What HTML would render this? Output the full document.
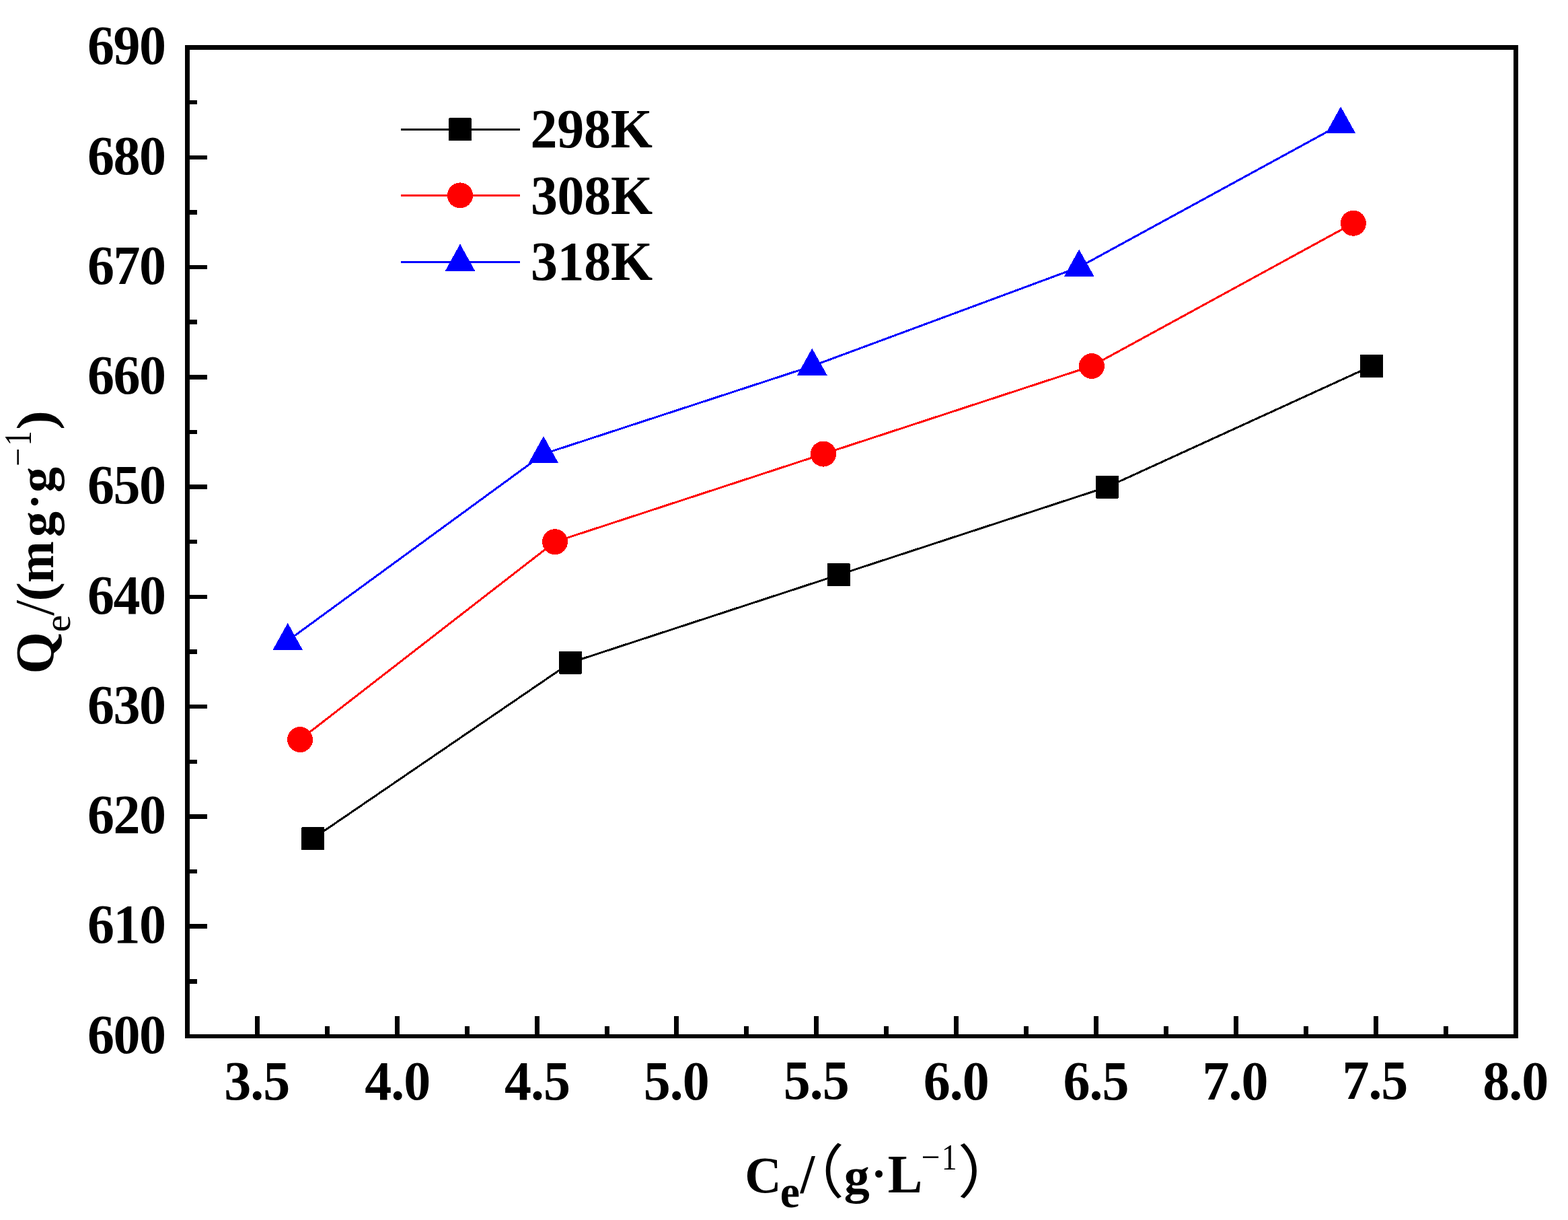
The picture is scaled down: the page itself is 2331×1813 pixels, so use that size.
<!DOCTYPE html>
<html><head><meta charset="utf-8"><style>html,body{margin:0;padding:0;background:#fff}svg{display:block}</style></head>
<body><svg width="2331" height="1813" viewBox="0 0 2331 1813" shape-rendering="crispEdges">
<rect width="2331" height="1813" fill="#fff"/>
<polyline points="465.2,1246.1 847.9,984.8 1246.9,854.2 1646.2,723.6 2038.9,544.0" fill="none" stroke="#000" stroke-width="3"/>
<polyline points="446.1,1099.1 825.0,805.2 1224.0,674.6 1622.9,544.0 2011.9,331.7" fill="none" stroke="#f00" stroke-width="3"/>
<polyline points="427.8,952.2 808.0,674.6 1207.3,544.0 1604.2,397.0 1993.2,184.8" fill="none" stroke="#00f" stroke-width="3"/>
<rect x="448.2" y="1229.1" width="34" height="34" rx="1.5" fill="#000"/>
<rect x="830.9" y="967.8" width="34" height="34" rx="1.5" fill="#000"/>
<rect x="1229.9" y="837.2" width="34" height="34" rx="1.5" fill="#000"/>
<rect x="1629.2" y="706.6" width="34" height="34" rx="1.5" fill="#000"/>
<rect x="2021.9" y="527.0" width="34" height="34" rx="1.5" fill="#000"/>
<circle cx="446.1" cy="1099.1" r="19" fill="#f00"/>
<circle cx="825.0" cy="805.2" r="19" fill="#f00"/>
<circle cx="1224.0" cy="674.6" r="19" fill="#f00"/>
<circle cx="1622.9" cy="544.0" r="19" fill="#f00"/>
<circle cx="2011.9" cy="331.7" r="19" fill="#f00"/>
<polygon points="427.8,925.8 450.0,965.8 405.5,965.8" fill="#00f"/>
<polygon points="808.0,648.2 830.2,688.2 785.7,688.2" fill="#00f"/>
<polygon points="1207.3,517.6 1229.6,557.6 1185.1,557.6" fill="#00f"/>
<polygon points="1604.2,370.6 1626.5,410.6 1582.0,410.6" fill="#00f"/>
<polygon points="1993.2,158.4 2015.4,198.4 1970.9,198.4" fill="#00f"/>
<g fill="#000">
<rect x="275" y="67" width="1982" height="7"/>
<rect x="275" y="1537" width="1982" height="6"/>
<rect x="275" y="67" width="7" height="1476"/>
<rect x="2250" y="67" width="7" height="1476"/>
<rect x="282" y="1455.11" width="11" height="6.5"/>
<rect x="282" y="1373.47" width="26" height="6.5"/>
<rect x="282" y="1291.83" width="11" height="6.5"/>
<rect x="282" y="1210.19" width="26" height="6.5"/>
<rect x="282" y="1128.55" width="11" height="6.5"/>
<rect x="282" y="1046.91" width="26" height="6.5"/>
<rect x="282" y="965.27" width="11" height="6.5"/>
<rect x="282" y="883.63" width="26" height="6.5"/>
<rect x="282" y="801.99" width="11" height="6.5"/>
<rect x="282" y="720.35" width="26" height="6.5"/>
<rect x="282" y="638.71" width="11" height="6.5"/>
<rect x="282" y="557.07" width="26" height="6.5"/>
<rect x="282" y="475.43" width="11" height="6.5"/>
<rect x="282" y="393.79" width="26" height="6.5"/>
<rect x="282" y="312.15" width="11" height="6.5"/>
<rect x="282" y="230.51" width="26" height="6.5"/>
<rect x="282" y="148.87" width="11" height="6.5"/>
<rect x="282" y="67.23" width="26" height="6.5"/>
<rect x="282" y="-14.41" width="11" height="6.5"/>
<rect x="378.90" y="1510" width="7" height="27"/>
<rect x="482.82" y="1525" width="7" height="12"/>
<rect x="586.75" y="1510" width="7" height="27"/>
<rect x="690.67" y="1525" width="7" height="12"/>
<rect x="794.60" y="1510" width="7" height="27"/>
<rect x="898.52" y="1525" width="7" height="12"/>
<rect x="1002.45" y="1510" width="7" height="27"/>
<rect x="1106.38" y="1525" width="7" height="12"/>
<rect x="1210.30" y="1510" width="7" height="27"/>
<rect x="1314.22" y="1525" width="7" height="12"/>
<rect x="1418.15" y="1510" width="7" height="27"/>
<rect x="1522.07" y="1525" width="7" height="12"/>
<rect x="1626.00" y="1510" width="7" height="27"/>
<rect x="1729.92" y="1525" width="7" height="12"/>
<rect x="1833.85" y="1510" width="7" height="27"/>
<rect x="1937.78" y="1525" width="7" height="12"/>
<rect x="2041.70" y="1510" width="7" height="27"/>
<rect x="2145.62" y="1525" width="7" height="12"/>
</g>
<text transform="translate(130.05,1564.74) scale(1,1.02)" font-family='"Liberation Serif", serif' font-weight="bold" font-size="80" letter-spacing="-1.5" fill="#000">600</text>
<text transform="translate(130.05,1401.46) scale(1,1.02)" font-family='"Liberation Serif", serif' font-weight="bold" font-size="80" letter-spacing="-1.5" fill="#000">610</text>
<text transform="translate(130.05,1238.18) scale(1,1.02)" font-family='"Liberation Serif", serif' font-weight="bold" font-size="80" letter-spacing="-1.5" fill="#000">620</text>
<text transform="translate(130.05,1074.90) scale(1,1.02)" font-family='"Liberation Serif", serif' font-weight="bold" font-size="80" letter-spacing="-1.5" fill="#000">630</text>
<text transform="translate(130.05,911.62) scale(1,1.02)" font-family='"Liberation Serif", serif' font-weight="bold" font-size="80" letter-spacing="-1.5" fill="#000">640</text>
<text transform="translate(130.05,748.34) scale(1,1.02)" font-family='"Liberation Serif", serif' font-weight="bold" font-size="80" letter-spacing="-1.5" fill="#000">650</text>
<text transform="translate(130.05,585.06) scale(1,1.02)" font-family='"Liberation Serif", serif' font-weight="bold" font-size="80" letter-spacing="-1.5" fill="#000">660</text>
<text transform="translate(130.05,421.78) scale(1,1.02)" font-family='"Liberation Serif", serif' font-weight="bold" font-size="80" letter-spacing="-1.5" fill="#000">670</text>
<text transform="translate(130.05,258.50) scale(1,1.02)" font-family='"Liberation Serif", serif' font-weight="bold" font-size="80" letter-spacing="-1.5" fill="#000">680</text>
<text transform="translate(130.05,95.22) scale(1,1.02)" font-family='"Liberation Serif", serif' font-weight="bold" font-size="80" letter-spacing="-1.5" fill="#000">690</text>
<text transform="translate(333.36,1633.74) scale(1,1.02)" font-family='"Liberation Serif", serif' font-weight="bold" font-size="80" letter-spacing="-1" fill="#000">3.5</text>
<text transform="translate(542.23,1633.86) scale(1,1.02)" font-family='"Liberation Serif", serif' font-weight="bold" font-size="80" letter-spacing="-1" fill="#000">4.0</text>
<text transform="translate(750.02,1633.58) scale(1,1.02)" font-family='"Liberation Serif", serif' font-weight="bold" font-size="80" letter-spacing="-1" fill="#000">4.5</text>
<text transform="translate(956.87,1633.86) scale(1,1.02)" font-family='"Liberation Serif", serif' font-weight="bold" font-size="80" letter-spacing="-1" fill="#000">5.0</text>
<text transform="translate(1164.66,1633.44) scale(1,1.02)" font-family='"Liberation Serif", serif' font-weight="bold" font-size="80" letter-spacing="-1" fill="#000">5.5</text>
<text transform="translate(1372.81,1633.86) scale(1,1.02)" font-family='"Liberation Serif", serif' font-weight="bold" font-size="80" letter-spacing="-1" fill="#000">6.0</text>
<text transform="translate(1580.60,1633.74) scale(1,1.02)" font-family='"Liberation Serif", serif' font-weight="bold" font-size="80" letter-spacing="-1" fill="#000">6.5</text>
<text transform="translate(1787.59,1633.86) scale(1,1.02)" font-family='"Liberation Serif", serif' font-weight="bold" font-size="80" letter-spacing="-1" fill="#000">7.0</text>
<text transform="translate(1995.38,1633.44) scale(1,1.02)" font-family='"Liberation Serif", serif' font-weight="bold" font-size="80" letter-spacing="-1" fill="#000">7.5</text>
<text transform="translate(2204.25,1633.86) scale(1,1.02)" font-family='"Liberation Serif", serif' font-weight="bold" font-size="80" letter-spacing="-1" fill="#000">8.0</text>
<line x1="596" y1="192.3" x2="773" y2="192.3" stroke="#000" stroke-width="3"/>
<line x1="596" y1="290.4" x2="773" y2="290.4" stroke="#f00" stroke-width="3"/>
<line x1="596" y1="389.0" x2="773" y2="389.0" stroke="#00f" stroke-width="3"/>
<rect x="667.0" y="175.3" width="34" height="34" rx="1.5" fill="#000"/>
<circle cx="684.0" cy="290.4" r="19" fill="#f00"/>
<polygon points="684.0,362.6 706.2,402.6 661.8,402.6" fill="#00f"/>
<text transform="translate(788.54,218.80) scale(1,1.02)" font-family='"Liberation Serif", serif' font-weight="bold" font-size="80" letter-spacing="-0.3" fill="#000">298K</text>
<text transform="translate(788.89,317.60) scale(1,1.02)" font-family='"Liberation Serif", serif' font-weight="bold" font-size="80" letter-spacing="-0.3" fill="#000">308K</text>
<text transform="translate(788.89,416.20) scale(1,1.02)" font-family='"Liberation Serif", serif' font-weight="bold" font-size="80" letter-spacing="-0.3" fill="#000">318K</text>
<text transform="rotate(-90)" fill="#000"><tspan x="-1001.62" y="78.90" font-size="81.41" font-weight="bold" font-family='"Liberation Serif", serif' textLength="62.45" lengthAdjust="spacingAndGlyphs">Q</tspan><tspan x="-939.24" y="103.67" font-size="54.47" font-weight="normal" font-family='"Liberation Serif", serif' textLength="25.42" lengthAdjust="spacingAndGlyphs">e</tspan><tspan x="-915.00" y="79.19" font-size="82.67" font-weight="normal" font-family='"Liberation Serif", serif' textLength="23.20" lengthAdjust="spacingAndGlyphs">/</tspan><tspan x="-893.82" y="79.34" font-size="78.74" font-weight="bold" font-family='"Liberation Serif", serif' textLength="28.91" lengthAdjust="spacingAndGlyphs">(</tspan><tspan x="-865.99" y="78.80" font-size="78.10" font-weight="bold" font-family='"Liberation Serif", serif' textLength="61.76" lengthAdjust="spacingAndGlyphs">m</tspan><tspan x="-798.00" y="79.62" font-size="73.31" font-weight="bold" font-family='"Liberation Serif", serif' textLength="37.94" lengthAdjust="spacingAndGlyphs">g</tspan><tspan x="-757.36" y="74.18" font-size="68.47" font-weight="bold" font-family='"Liberation Serif", serif' textLength="23.66" lengthAdjust="spacingAndGlyphs">·</tspan><tspan x="-732.00" y="79.62" font-size="73.31" font-weight="bold" font-family='"Liberation Serif", serif' textLength="37.94" lengthAdjust="spacingAndGlyphs">g</tspan><tspan x="-693.11" y="43.93" font-size="52.20" font-weight="normal" font-family='"Liberation Serif", serif' textLength="27.27" lengthAdjust="spacingAndGlyphs">−</tspan><tspan x="-662.49" y="45.90" font-size="56.20" font-weight="normal" font-family='"Liberation Serif", serif' textLength="22.16" lengthAdjust="spacingAndGlyphs">1</tspan><tspan x="-638.79" y="79.26" font-size="78.63" font-weight="bold" font-family='"Liberation Serif", serif' textLength="28.78" lengthAdjust="spacingAndGlyphs">)</tspan></text>
<text fill="#000"><tspan x="1107.32" y="1772.06" font-size="75.76" font-weight="bold" font-family='"Liberation Serif", serif' textLength="54.42" lengthAdjust="spacingAndGlyphs">C</tspan><tspan x="1159.65" y="1794.17" font-size="67.99" font-weight="bold" font-family='"Liberation Serif", serif' textLength="29.26" lengthAdjust="spacingAndGlyphs">e</tspan><tspan x="1189.75" y="1772.00" font-size="82.28" font-weight="bold" font-family='"Liberation Serif", serif' textLength="21.45" lengthAdjust="spacingAndGlyphs">/</tspan><tspan x="1165.55" y="1772.89" font-size="86.55" font-weight="normal" font-family='"Liberation Serif", "Noto Sans CJK SC", sans-serif' textLength="89.58" lengthAdjust="spacingAndGlyphs">（</tspan><tspan x="1254.69" y="1772.56" font-size="73.38" font-weight="bold" font-family='"Liberation Serif", serif' textLength="38.05" lengthAdjust="spacingAndGlyphs">g</tspan><tspan x="1295.20" y="1766.93" font-size="67.86" font-weight="bold" font-family='"Liberation Serif", serif' textLength="22.63" lengthAdjust="spacingAndGlyphs">·</tspan><tspan x="1319.68" y="1771.90" font-size="81.10" font-weight="bold" font-family='"Liberation Serif", serif' textLength="51.57" lengthAdjust="spacingAndGlyphs">L</tspan><tspan x="1369.43" y="1736.53" font-size="52.20" font-weight="normal" font-family='"Liberation Serif", serif' textLength="28.00" lengthAdjust="spacingAndGlyphs">−</tspan><tspan x="1399.76" y="1737.90" font-size="55.90" font-weight="normal" font-family='"Liberation Serif", serif' textLength="23.01" lengthAdjust="spacingAndGlyphs">1</tspan><tspan x="1423.62" y="1772.65" font-size="85.92" font-weight="normal" font-family='"Liberation Serif", "Noto Sans CJK SC", sans-serif' textLength="93.05" lengthAdjust="spacingAndGlyphs">）</tspan></text>
</svg></body></html>
